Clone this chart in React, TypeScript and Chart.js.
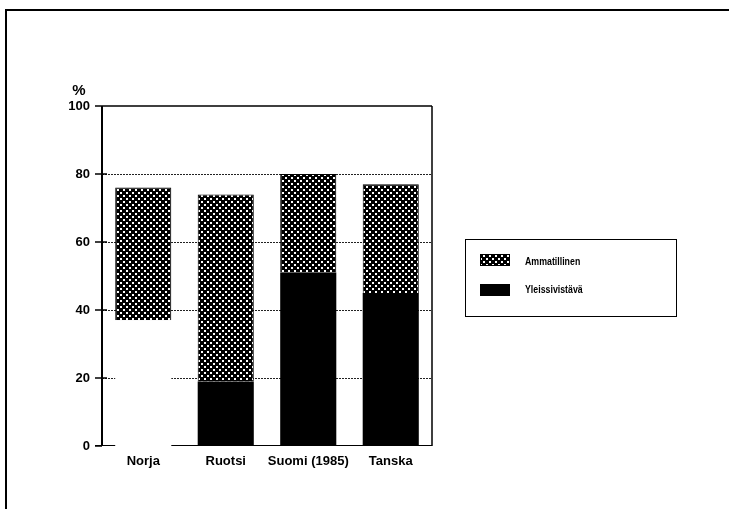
import React, { useEffect, useRef } from "react";
import { Chart, registerables } from "chart.js";

Chart.register(...registerables);

const categories = ["Norja", "Ruotsi", "Suomi (1985)", "Tanska"];
const yleissivistava = [37, 19, 51, 45];
const ammatillinen = [39, 55, 29, 32];
const yGridValues = [20, 40, 60, 80];
const yTickValues = [0, 20, 40, 60, 80, 100];
const legendLabels = ["Ammatillinen", "Yleissivistävä"];
const unitLabel = "%";

const FAMILY = "'Liberation Sans', Arial, sans-serif";

function makePattern(): CanvasPattern | string {
  const c = document.createElement("canvas");
  c.width = 6;
  c.height = 6;
  const g = c.getContext("2d");
  if (!g) return "#444";
  g.fillStyle = "#000";
  g.fillRect(0, 0, 6, 6);
  g.fillStyle = "#fff";
  g.fillRect(0, 0, 2, 2);
  g.fillRect(3, 3, 2, 2);
  const p = g.createPattern(c, "repeat");
  return p || "#444";
}

export default function App() {
  const ref = useRef<HTMLCanvasElement | null>(null);

  useEffect(() => {
    const canvas = ref.current;
    if (!canvas) return;
    const pattern = makePattern();

    const framePlugin = {
      id: "framePlugin",
      beforeDatasetsDraw(chart: any) {
        const { ctx, chartArea: a, scales } = chart;
        const y = scales.y;
        ctx.save();
        ctx.strokeStyle = "#222";
        ctx.lineWidth = 1;
        ctx.setLineDash([2, 1]);
        for (const v of yGridValues) {
          const py = Math.round(y.getPixelForValue(v)) + 0.5;
          ctx.beginPath();
          ctx.moveTo(a.left, py);
          ctx.lineTo(a.right, py);
          ctx.stroke();
        }
        ctx.setLineDash([]);
        ctx.strokeStyle = "#000";
        const top = y.getPixelForValue(100);
        const bottom = y.getPixelForValue(0);
        ctx.lineWidth = 1.5;
        ctx.beginPath();
        ctx.moveTo(a.left, top);
        ctx.lineTo(a.right, top);
        ctx.moveTo(a.right, top);
        ctx.lineTo(a.right, bottom);
        ctx.stroke();
        ctx.lineWidth = 2;
        ctx.beginPath();
        ctx.moveTo(a.left, top);
        ctx.lineTo(a.left, bottom);
        ctx.stroke();
        ctx.lineWidth = 1;
        ctx.beginPath();
        ctx.moveTo(a.left - 7, bottom - 0.5);
        ctx.lineTo(a.right, bottom - 0.5);
        ctx.stroke();
        ctx.lineWidth = 1.5;
        for (const v of yTickValues) {
          const py = y.getPixelForValue(v);
          ctx.beginPath();
          ctx.moveTo(a.left - 7, py);
          ctx.lineTo(v === 0 || v === 100 ? a.left : a.left + 5, py);
          ctx.stroke();
        }
        ctx.restore();
      },
      afterDraw(chart: any) {
        const { ctx } = chart;
        ctx.save();
        ctx.strokeStyle = "#000";
        ctx.lineWidth = 2;
        ctx.beginPath();
        ctx.moveTo(6, 520);
        ctx.lineTo(6, 10);
        ctx.lineTo(740, 10);
        ctx.stroke();
        ctx.fillStyle = "#000";
        ctx.font = "bold 15px " + FAMILY;
        ctx.textAlign = "center";
        ctx.textBaseline = "middle";
        ctx.fillText(unitLabel, 79, 91);
        ctx.lineWidth = 1;
        ctx.strokeRect(465.5, 239.5, 211, 77);
        ctx.fillStyle = pattern as any;
        ctx.fillRect(480, 254, 30, 12);
        ctx.strokeStyle = "#000";
        ctx.strokeRect(480.5, 254.5, 29, 11);
        ctx.fillStyle = "#000";
        ctx.fillRect(480, 284, 30, 12);
        ctx.font = "bold 11px " + FAMILY;
        ctx.textAlign = "left";
        ctx.textBaseline = "middle";
        const ys = [262, 290];
        legendLabels.forEach((t, i) => {
          ctx.save();
          ctx.translate(525, ys[i]);
          ctx.scale(0.8, 1);
          ctx.fillText(t, 0, 0);
          ctx.restore();
        });
        ctx.restore();
      },
    };

    const chart = new Chart(canvas, {
      type: "bar",
      data: {
        labels: categories,
        datasets: [
          {
            label: legendLabels[1],
            data: yleissivistava,
            backgroundColor: ["#ffffff", "#000000", "#000000", "#000000"],
            borderWidth: 0,
            barPercentage: 0.68,
            categoryPercentage: 1,
          },
          {
            label: legendLabels[0],
            data: ammatillinen,
            backgroundColor: pattern as any,
            borderColor: "#000",
            borderWidth: 1,
            borderSkipped: "bottom",
            barPercentage: 0.68,
            categoryPercentage: 1,
          },
        ],
      },
      options: {
        responsive: false,
        animation: false,
        devicePixelRatio: 1,
        layout: { padding: { left: 0, top: 106, right: 297, bottom: 0 } },
        plugins: { legend: { display: false }, tooltip: { enabled: false } },
        scales: {
          x: {
            stacked: true,
            grid: { display: false, drawTicks: false },
            border: { display: false },
            ticks: {
              color: "#000",
              font: { family: FAMILY, size: 13, weight: "bold" },
              padding: 8,
              maxRotation: 0,
              autoSkip: false,
            },
            afterFit: (s: any) => {
              s.height = 63;
            },
          },
          y: {
            stacked: true,
            min: 0,
            max: 100,
            grid: { display: false, drawTicks: false },
            border: { display: false },
            ticks: {
              stepSize: 20,
              color: "#000",
              font: { family: FAMILY, size: 13, weight: "bold" },
              padding: 12,
            },
            afterFit: (s: any) => {
              s.width = 102;
            },
          },
        },
      },
      plugins: [framePlugin],
    } as any);

    return () => chart.destroy();
  }, []);

  return (
    <div style={{ position: "fixed", left: 0, top: 0, width: 729, height: 509, background: "#fff" }}>
      <canvas ref={ref} width={729} height={509} style={{ display: "block", width: 729, height: 509 }} />
    </div>
  );
}
